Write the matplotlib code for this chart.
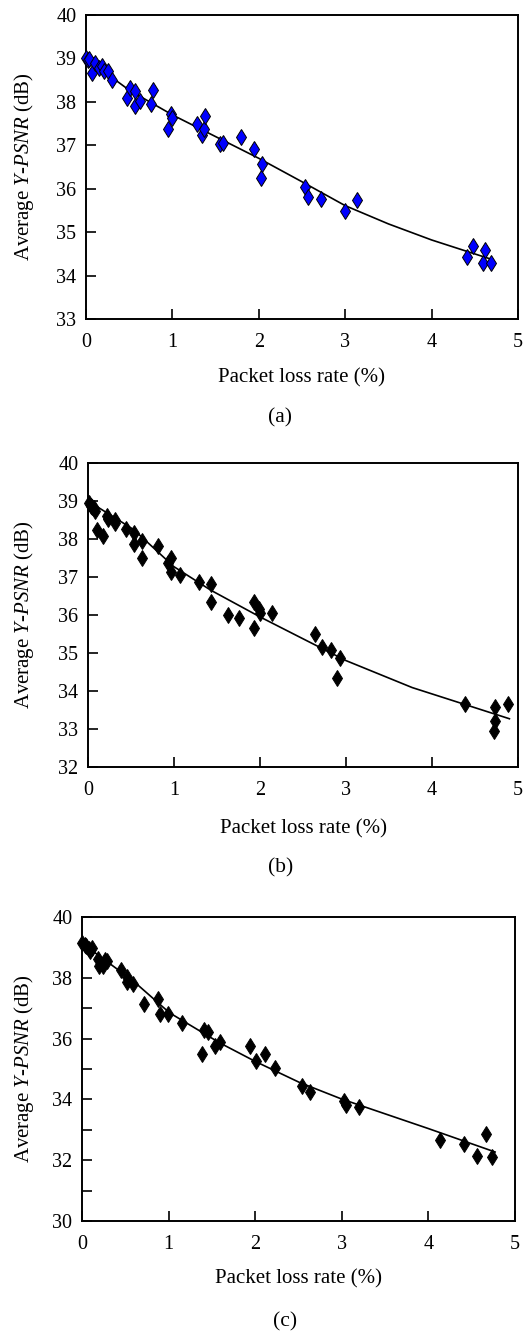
import matplotlib
matplotlib.use("Agg")
import matplotlib.pyplot as plt
from matplotlib.ticker import MultipleLocator

plt.rcParams['font.family'] = ['Liberation Serif', 'DejaVu Serif']
plt.rcParams['mathtext.fontset'] = 'custom'
plt.rcParams['mathtext.rm'] = 'Liberation Serif'
plt.rcParams['mathtext.it'] = 'Liberation Serif:italic'

# panel (a) measured points
loss_a = [0.0, 0.02, 0.04, 0.066, 0.10, 0.15, 0.18, 0.21, 0.25, 0.30,
          0.48, 0.51, 0.57, 0.57, 0.62, 0.75, 0.77, 0.945, 0.98, 1.00,
          1.28, 1.34, 1.36, 1.38, 1.55, 1.59, 1.79, 1.94, 2.03, 2.04,
          2.53, 2.57, 2.72, 3.00, 3.14, 4.41, 4.48, 4.60, 4.62, 4.69]
psnr_a = [39.00, 38.96, 38.98, 38.67, 38.89, 38.77, 38.83, 38.70, 38.70, 38.50,
          38.10, 38.31, 38.26, 37.91, 38.02, 37.94, 38.27, 37.37, 37.72, 37.62,
          37.49, 37.24, 37.37, 37.67, 37.03, 37.05, 37.18, 36.92, 36.25, 36.58,
          36.05, 35.80, 35.76, 35.49, 35.73, 34.42, 34.67, 34.28, 34.59, 34.28]
fit_x_a = [0.0, 0.5, 1.0, 1.5, 2.0, 2.5, 3.0, 3.5, 4.0, 4.7]
fit_y_a = [39.00, 38.27, 37.70, 37.20, 36.70, 36.16, 35.61, 35.19, 34.82, 34.37]

# panel (b)
loss_b = [0.01, 0.03, 0.05, 0.07, 0.085, 0.10, 0.17, 0.22, 0.23, 0.31,
          0.31, 0.44, 0.54, 0.53, 0.63, 0.63, 0.81, 0.93, 0.96, 0.97,
          1.07, 1.29, 1.43, 1.43, 1.63, 1.75, 1.93, 1.93, 1.99, 2.00,
          2.14, 2.64, 2.72, 2.82, 2.90, 2.93, 4.38, 4.72, 4.73, 4.73, 4.88]
psnr_b = [38.94, 38.88, 38.85, 38.82, 38.73, 38.25, 38.07, 38.60, 38.53, 38.50,
          38.42, 38.27, 38.16, 37.88, 37.96, 37.51, 37.81, 37.38, 37.50, 37.14,
          37.04, 36.88, 36.81, 36.34, 35.99, 35.92, 36.33, 35.66, 36.17, 36.05,
          36.05, 35.50, 35.15, 35.09, 34.33, 34.86, 33.65, 32.94, 33.22, 33.58, 33.65]
fit_x_b = [0.0, 0.53, 1.0, 1.43, 2.0, 2.46, 3.0, 3.77, 4.9]
fit_y_b = [39.00, 38.25, 37.27, 36.65, 35.95, 35.42, 34.80, 34.09, 33.27]

# panel (c)
loss_c = [0.0, 0.03, 0.05, 0.08, 0.09, 0.12, 0.19, 0.20, 0.24, 0.27,
          0.29, 0.45, 0.52, 0.52, 0.59, 0.72, 0.88, 0.90, 0.995, 1.16,
          1.38, 1.41, 1.45, 1.54, 1.59, 1.94, 2.01, 2.11, 2.23, 2.54,
          2.63, 3.03, 3.05, 3.20, 4.13, 4.41, 4.56, 4.66, 4.74]
psnr_c = [39.14, 39.09, 39.03, 38.95, 38.87, 38.98, 38.62, 38.40, 38.40, 38.59,
          38.54, 38.25, 38.03, 37.85, 37.79, 37.15, 37.29, 36.80, 36.82, 36.51,
          35.48, 36.27, 36.22, 35.75, 35.88, 35.75, 35.25, 35.50, 35.03, 34.45,
          34.23, 33.96, 33.83, 33.75, 32.67, 32.54, 32.15, 32.86, 32.09]
fit_x_c = [0.0, 0.59, 1.01, 1.59, 2.0, 2.51, 3.0, 4.0, 4.77]
fit_y_c = [39.14, 37.90, 36.85, 35.86, 35.25, 34.56, 34.01, 33.04, 32.27]

W, H = 527, 1333
fig = plt.figure(figsize=(W / 100, H / 100), dpi=100)

panels = [
    # left, right, top, bottom (px), ylim, y step, data, face, caption, caption pos, xlabel y
    (86, 518, 15, 319, (33, 40), 1, loss_a, psnr_a, fit_x_a, fit_y_a, '#0000ff', '(a)', (280, 418), 378),
    (88, 518, 463, 767, (32, 40), 1, loss_b, psnr_b, fit_x_b, fit_y_b, 'black', '(b)', (281, 868), 829),
    (82, 515, 917, 1221, (30, 40), 2, loss_c, psnr_c, fit_x_c, fit_y_c, 'black', '(c)', (285, 1322), 1279),
]

for (l, r, t, b, ylim, ystep, xs, ys, fx, fy, face, cap, cpos, xl_y) in panels:
    ax = fig.add_axes([l / W, 1 - b / H, (r - l) / W, (b - t) / H])
    ax.plot(fx, fy, color='black', lw=1.2, zorder=2)
    ax.plot(xs, ys, linestyle='none', marker='d', markersize=8,
            markerfacecolor=face, markeredgecolor='black', markeredgewidth=0.7,
            clip_on=False, zorder=3)
    ax.set_xlim(0, 5)
    ax.set_ylim(*ylim)
    ax.xaxis.set_major_locator(MultipleLocator(1))
    ax.yaxis.set_major_locator(MultipleLocator(ystep))
    if ystep == 2:
        ax.yaxis.set_minor_locator(MultipleLocator(1))
        ax.tick_params(axis='y', which='minor', direction='in', length=7, width=1.2)
    ax.tick_params(axis='both', which='major', direction='in', length=7, width=1.2,
                   labelsize=14.5)
    ax.tick_params(axis='x', pad=10)
    ax.tick_params(axis='y', pad=7)
    ax.tick_params(top=False, right=False)
    for s in ax.spines.values():
        s.set_linewidth(1.4)
    ax.set_xlabel('Packet loss rate (%)', fontsize=15, va='center')
    ax.xaxis.set_label_coords(0.5, -(xl_y - b) / (b - t))
    ax.set_ylabel(r'Average $\mathit{Y}$-$\mathit{PSNR}$ (dB)', fontsize=15, va='center')
    ax.yaxis.set_label_coords((24 - l) / (r - l), 0.5)
    fig.text(cpos[0] / W, 1 - cpos[1] / H, cap, ha='center', va='center', fontsize=15.5)

fig.savefig('out.png', dpi=100)
